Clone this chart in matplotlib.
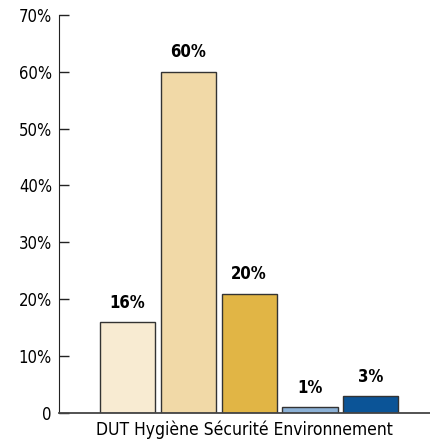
import matplotlib
matplotlib.use('Agg')
import matplotlib.pyplot as plt
from matplotlib.ticker import FuncFormatter

plt.rcParams['font.family'] = ['DejaVu Sans']
plt.rcParams['font.stretch'] = 'condensed'

# données
categories = ['A', 'B', 'C', 'D', 'E']
valeurs = [16, 60, 21, 1, 3]
etiquettes = ['16%', '60%', '20%', '1%', '3%']
couleurs = ['#F8EBD2', '#F1D9A7', '#E1B545', '#8CB1D6', '#0B5497']
titre_x = 'DUT Hygiène Sécurité Environnement'

fig = plt.figure(figsize=(4.3, 4.4), dpi=100)
ax = fig.add_axes([0.137, 0.0614, 0.863, 0.905])

x = list(range(len(valeurs)))
ax.bar(x, valeurs, width=0.91, color=couleurs, edgecolor='#333333', linewidth=1)

for xi, v, lab in zip(x, valeurs, etiquettes):
    ax.text(xi, v + 3.4, lab, ha='center', va='center', fontsize=12, fontweight='bold')

ax.set_xlim(-1.13, 4.975)
ax.set_ylim(0, 70)
ax.set_yticks(range(0, 71, 10))
ax.yaxis.set_major_formatter(FuncFormatter(lambda v, p: '0' if v == 0 else f'{int(v)}%'))
ax.tick_params(axis='y', labelsize=12, direction='in', length=7, width=1, color='#222222', pad=5)
ax.set_xticks([])
# titre sous l'axe, centré sur la zone du graphique
ax.text(0.5, -0.02, titre_x, transform=ax.transAxes, ha='center', va='top', fontsize=12.5)

for s in ['top', 'right']:
    ax.spines[s].set_visible(False)
ax.spines['left'].set_color('#222222')
ax.spines['bottom'].set_color('#444444')
ax.spines['bottom'].set_linewidth(1.3)

fig.savefig('out.png', dpi=100)
